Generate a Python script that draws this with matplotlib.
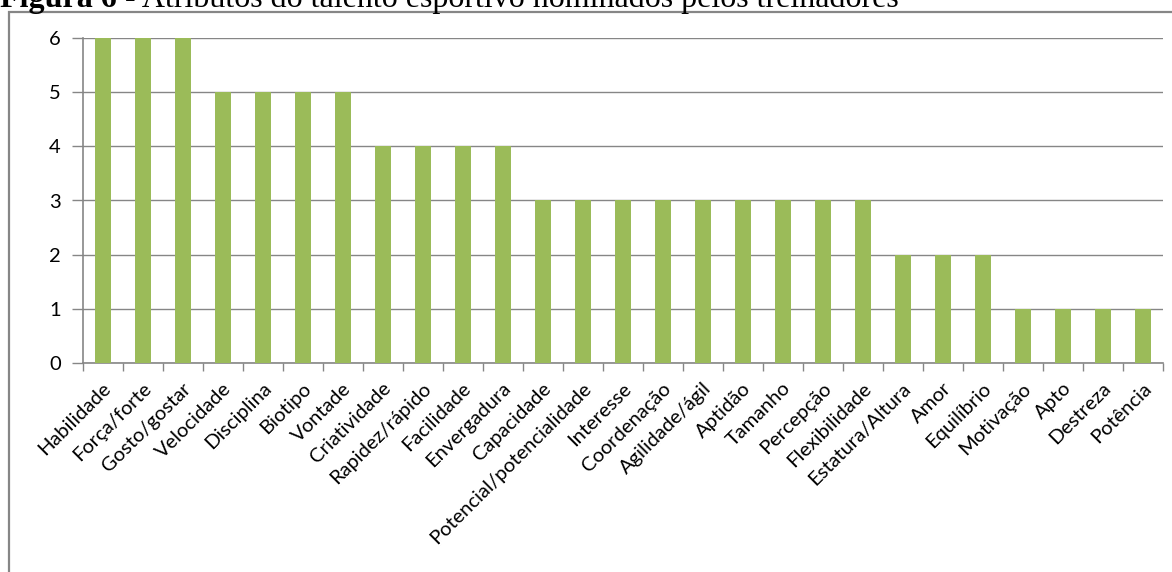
import matplotlib.pyplot as plt
from matplotlib.patches import Rectangle

atributos = ['Habilidade', 'Força/forte', 'Gosto/gostar', 'Velocidade', 'Disciplina',
             'Biotipo', 'Vontade', 'Criatividade', 'Rapidez/rápido', 'Facilidade',
             'Envergadura', 'Capacidade', 'Potencial/potencialidade', 'Interesse',
             'Coordenação', 'Agilidade/ágil', 'Aptidão', 'Tamanho', 'Percepção',
             'Flexibilidade', 'Estatura/Altura', 'Amor', 'Equilíbrio', 'Motivação',
             'Apto', 'Destreza', 'Potência']
nominacoes = [6, 6, 6, 5, 5, 5, 5, 4, 4, 4, 4, 3, 3, 3, 3, 3, 3, 3, 3, 3,
              2, 2, 2, 1, 1, 1, 1]
y_ticks = [0, 1, 2, 3, 4, 5, 6]

W, H = 1172, 572
fig = plt.figure(figsize=(W / 100, H / 100), dpi=100)

# moldura do gráfico (cortada à direita e embaixo)
fig.patches.append(Rectangle((9 / W, -0.1), 1.2, 1 - 12 / H + 0.1,
                             transform=fig.transFigure, fill=False,
                             edgecolor='#868686', linewidth=1.6))

# título da figura, cortado no topo
t1 = fig.text(0.0, 1 - 7 / H, 'Figura 6', fontfamily='Liberation Serif',
              fontweight='bold', fontsize=23, va='baseline', ha='left')
renderer = fig.canvas.get_renderer()
bb = t1.get_window_extent(renderer)
fig.text(bb.x1 / W, 1 - 7 / H, ' - Atributos do talento esportivo nominados pelos treinadores',
         fontfamily='Liberation Serif', fontsize=23, va='baseline', ha='left')

ax = fig.add_axes([83 / W, 1 - 363.3 / H, (1163 - 83) / W, (363.3 - 37.7) / H])

x = list(range(len(atributos)))
ax.bar(x, nominacoes, width=0.4, color='#9BBB59', zorder=3)

ax.set_xlim(-0.5, len(atributos) - 0.5)
ax.set_ylim(0, 6)
ax.set_yticks(y_ticks)
ax.yaxis.grid(True, color='#868686', linewidth=1.0, zorder=0)

for s in ['top', 'right']:
    ax.spines[s].set_visible(False)
for s in ['left', 'bottom']:
    ax.spines[s].set_color('#868686')
    ax.spines[s].set_linewidth(1.2)

# marcas nas fronteiras das categorias
ax.set_xticks([i - 0.5 for i in range(len(atributos) + 1)])
ax.set_xticklabels([])
ax.tick_params(axis='x', length=6, color='#868686', width=1.0)
ax.tick_params(axis='y', length=8, color='#868686', width=1.0, labelsize=14.5,
               pad=8)
for lbl in ax.get_yticklabels():
    lbl.set_fontfamily('Lato')

for i, nome in enumerate(atributos):
    ax.text(i - 0.02, -0.3, nome, rotation=45, ha='right', va='top',
            rotation_mode='anchor', fontfamily='Lato', fontsize=14.5,
            color='black', transform=ax.transData, clip_on=False)

fig.savefig('out.png', dpi=100)
